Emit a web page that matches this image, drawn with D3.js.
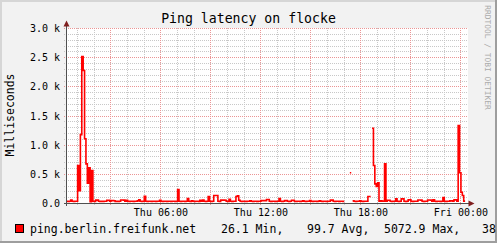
<!DOCTYPE html>
<html>
<head>
<meta charset="UTF-8">
<style>
  body { margin: 0; background: #f2f2f2; }
  svg { display: block; font-family: "DejaVu Sans Mono", monospace; }
</style>
</head>
<body>
<svg></svg>
<script src="https://d3js.org/d3.v7.min.js"></script>
<script>

let width = 497, height = 243;

// ping samples, 5 minute steps starting Thu 00:20 (null = no data)
let startTime = new Date(2014, 0, 2, 0, 20);
let stepMinutes = 5;
let latency = [
  38, 36, 38, 60, 38, 36, 38, 38, 650, 220, 1180, 2520, 2280, 1110, 680, 350, 610, 30, 565, 38, 36, 60, 58, 38,
  36, 38, 36, 38, 38, 55, 55, 38, 50, 50, 48, 36, 38, 36, 38, 60, 60, 58, 38, 55, 38, 36, 38, 38,
  36, 38, 38, 45, 63, 38, 36, 38, 125, 38, 36, 38, 38, 36, 38, 38, 36, 38, 38, 55, 38, 36, 38, 38,
  36, 38, 38, 36, 38, 38, 36, 38, 240, 38, 36, 38, 38, 36, 38, 86, 38, 36, 45, 38, 36, 38, 38, 36,
  55, 38, 60, 38, 36, 38, 120, 38, 36, 38, 137, 137, 137, 38, 36, 60, 58, 60, 55, 38, 36, 70, 38, 36,
  38, 38, 120, 130, 55, 38, 36, 38, 38, 36, 38, 38, 45, 38, 36, 38, 38, 36, 38, 38, 50, 48, 50, 50,
  69, 69, 38, 36, 38, 38, 36, 38, 38, 86, 38, 36, 38, 50, 50, 38, 36, 38, 55, 55, 38, 36, 38, 38,
  36, 38, 45, 38, 36, 38, 38, 50, 38, 36, 38, 38, 36, 38, 45, 38, 36, 38, 38, 36, 38, 38, 60, 58,
  38, 36, 38, 38, 36, 38, 38, 36, null, null, null, null, 526, null, 45, 38, 36, 38, 38, 45, 38, 36, 38, 38,
  38, 120, 120, null, 1290, 651, 337, 291, 354, 38, 45, 40, 38, 680, 38, 55, 55, 38, 36, 38, 38, 80, 38, 36,
  38, 80, 80, 38, 36, 38, 63, 63, 38, 36, 38, 38, 38, 60, 60, 58, 38, 36, 38, 38, 60, 60, 58, 38,
  63, 38, 36, 38, 38, 36, 38, 103, 38, 36, 38, 38, 45, 45, 38, 63, 63, 38, 1337, 526, 194, 137, 40, null
];

let yTicks = [0, 500, 1000, 1500, 2000, 2500, 3000];
let yTickLabels = ["0.0", "0.5 k", "1.0 k", "1.5 k", "2.0 k", "2.5 k", "3.0 k"];
let title = "Ping latency on flocke";
let yTitle = "Milliseconds";
let seriesName = "ping.berlin.freifunk.net";
let seriesStats = ["26.1 Min,", "99.7 Avg,", "5072.9 Max,", "38"];

let svg = d3.select("svg")
    .attr("width", width)
    .attr("height", height);

let endTime = d3.timeHour.offset(startTime, 24);
let x = d3.scaleTime().domain([startTime, endTime]).range([66.5, 466.5]);
let y = d3.scaleLinear().domain([0, 3000]).range([203.5, 28.5]);
let px = v => Math.floor(v) + 0.5;

// background + canvas
svg.append("rect").attr("width", width).attr("height", height).attr("fill", "#f2f2f2");
svg.append("rect")
    .attr("x", 67).attr("y", 28)
    .attr("width", 401).attr("height", 176)
    .attr("fill", "#ffffff");

// shaded frame
svg.append("rect").attr("x", 0).attr("y", 0).attr("width", width).attr("height", 2).attr("fill", "#d6d6d6");
svg.append("rect").attr("x", 0).attr("y", 0).attr("width", 2).attr("height", height).attr("fill", "#d6d6d6");
svg.append("rect").attr("x", 0).attr("y", height - 2).attr("width", width).attr("height", 2).attr("fill", "#9e9e9e");
svg.append("rect").attr("x", width - 2).attr("y", 0).attr("width", 2).attr("height", height).attr("fill", "#9e9e9e");

// grid
let grid = svg.append("g").attr("stroke-width", 1).attr("stroke-dasharray", "1,1").attr("fill", "none");
let minorY = d3.range(100, 3001, 100).filter(d => d % 500 != 0);
grid.selectAll(".hminor").data(minorY).enter().append("line")
    .attr("x1", 64).attr("x2", 468)
    .attr("y1", d => px(y(d))).attr("y2", d => px(y(d)))
    .attr("stroke", "#c8c8c8");
let hours = d3.timeHour.range(d3.timeHour.ceil(startTime), endTime);
grid.selectAll(".vminor").data(hours.filter(d => d.getHours() % 3 != 0)).enter().append("line")
    .attr("x1", d => px(x(d))).attr("x2", d => px(x(d)))
    .attr("y1", 28).attr("y2", 205)
    .attr("stroke", "#c8c8c8");
grid.selectAll(".hmajor").data(yTicks.slice(1)).enter().append("line")
    .attr("x1", 64).attr("x2", 468)
    .attr("y1", d => px(y(d))).attr("y2", d => px(y(d)))
    .attr("stroke", "#eb9595");
grid.selectAll(".vmajor").data(hours.filter(d => d.getHours() % 3 == 0)).enter().append("line")
    .attr("x1", d => px(x(d))).attr("x2", d => px(x(d)))
    .attr("y1", 28).attr("y2", 206)
    .attr("stroke", "#eb9595");

// the series as steps
let points = [];
latency.forEach((v, i) => {
    points.push({t: d3.timeMinute.offset(startTime, i * stepMinutes), v: v});
    points.push({t: d3.timeMinute.offset(startTime, (i + 1) * stepMinutes), v: v});
});
let line = d3.line()
    .defined(d => d.v != null)
    .x(d => x(d.t))
    .y(d => y(d.v));
svg.append("path")
    .datum(points)
    .attr("d", line)
    .attr("fill", "none")
    .attr("stroke", "#ff0000")
    .attr("stroke-width", 1.6)
    .attr("stroke-linejoin", "miter");

// axes
svg.append("line").attr("x1", 66.5).attr("x2", 66.5).attr("y1", 24).attr("y2", 206)
    .attr("stroke", "#505050");
svg.append("line").attr("x1", 64).attr("x2", 470).attr("y1", 203.5).attr("y2", 203.5)
    .attr("stroke", "#505050");
svg.append("path").attr("d", "M66.5,20.5 L63.5,26.5 L69.5,26.5 Z").attr("fill", "#801f1f");
svg.append("path").attr("d", "M474.5,203.5 L468.5,200.5 L468.5,206.5 Z").attr("fill", "#801f1f");

// tick labels
svg.append("g").selectAll("text").data(yTicks).enter().append("text")
    .attr("x", 60)
    .attr("y", d => y(d) + 3.6)
    .attr("text-anchor", "end")
    .attr("font-size", 10)
    .text((d, i) => yTickLabels[i]);
svg.append("g").selectAll("text").data(hours.filter(d => d.getHours() % 6 == 0)).enter().append("text")
    .attr("x", d => x(d))
    .attr("y", 216)
    .attr("text-anchor", "middle")
    .attr("font-size", 10)
    .text(d3.timeFormat("%a %H:%M"));

// titles
svg.append("text")
    .attr("x", 248.5).attr("y", 23)
    .attr("text-anchor", "middle")
    .attr("font-size", 13.2)
    .text(title);
svg.append("text")
    .attr("transform", "translate(14,115) rotate(-90)")
    .attr("text-anchor", "middle")
    .attr("font-size", 11.5)
    .text(yTitle);

// legend
svg.append("rect")
    .attr("x", 15.5).attr("y", 224.5).attr("width", 8).attr("height", 8)
    .attr("fill", "#ff0000").attr("stroke", "#000000");
svg.append("text").attr("x", 30).attr("y", 232.5).attr("font-size", 11.5).text(seriesName);
let statX = [221, 307, 384, 482];
svg.append("g").selectAll("text").data(seriesStats).enter().append("text")
    .attr("x", (d, i) => statX[i])
    .attr("y", 232.5)
    .attr("font-size", 11.5)
    .text(d => d);

// watermark
svg.append("text")
    .attr("transform", "translate(485,57.5) rotate(90)")
    .attr("text-anchor", "middle")
    .attr("font-size", 7.9)
    .attr("fill", "#ababab")
    .text("RRDTOOL / TOBI OETIKER");

</script>
</body>
</html>
